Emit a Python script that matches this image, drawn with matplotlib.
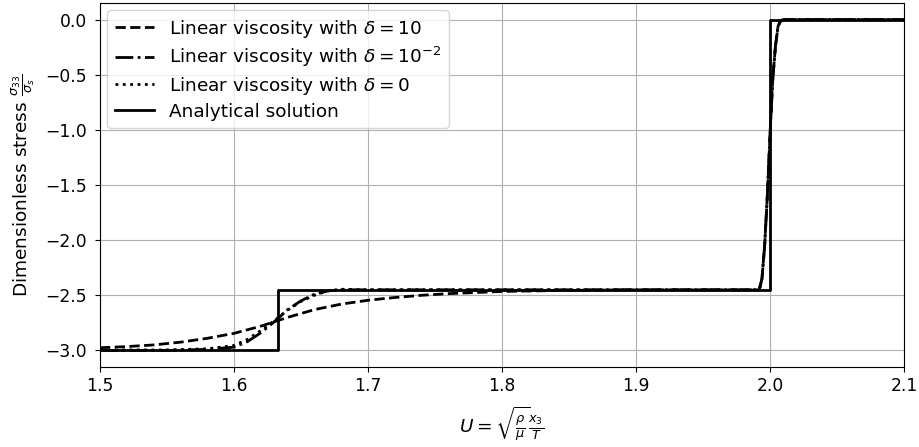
import numpy as np
import matplotlib
matplotlib.use("Agg")
import matplotlib.pyplot as plt

# Jump positions near U = 2
x_jump = [1.99, 1.992, 1.994, 1.996, 1.998, 2.0, 2.002, 2.004, 2.006, 2.008, 2.01, 2.1]
y_jump = [-2.45, -2.45, -2.35, -2.05, -1.6, -1.05, -0.55, -0.25, -0.06, -0.01, 0.0, 0.0]

# Linear viscosity delta = 10
x_d10 = [1.5, 1.52, 1.54, 1.56, 1.58, 1.6, 1.62, 1.64, 1.66, 1.68, 1.7, 1.72, 1.74,
         1.76, 1.78, 1.8, 1.85, 1.9, 1.95] + x_jump
y_d10 = [-2.975, -2.965, -2.95, -2.925, -2.89, -2.845, -2.78, -2.70, -2.63, -2.58,
         -2.545, -2.52, -2.50, -2.485, -2.475, -2.465, -2.455, -2.45, -2.45] + y_jump

# Linear viscosity delta = 1e-2
x_d2 = [1.5, 1.55, 1.58, 1.6, 1.61, 1.62, 1.63, 1.64, 1.65, 1.66, 1.67, 1.68, 1.7,
        1.8, 1.9] + x_jump
y_d2 = [-3.0, -3.0, -2.99, -2.97, -2.92, -2.84, -2.74, -2.63, -2.55, -2.49, -2.46,
        -2.45, -2.45, -2.45, -2.45] + y_jump

# Linear viscosity delta = 0
x_d0 = [1.5, 1.55, 1.58, 1.6, 1.61, 1.62, 1.63, 1.64, 1.65, 1.66, 1.67, 1.68, 1.7,
        1.8, 1.9] + x_jump
y_d0 = [-2.995, -2.995, -2.985, -2.955, -2.90, -2.82, -2.73, -2.635, -2.555, -2.50,
        -2.46, -2.445, -2.45, -2.45, -2.45] + y_jump

# Analytical solution
x_an = [1.5, 1.633, 1.633, 2.0, 2.0, 2.1]
y_an = [-3.0, -3.0, -2.449, -2.449, 0.0, 0.0]

fig = plt.figure(figsize=(9.2, 4.47), dpi=100)
ax = fig.add_axes([100/920, 80/447, 804/920, 364/447])

ax.plot(x_d10, y_d10, color='black', linestyle='--', lw=2, label=r'Linear viscosity with $\delta = 10$')
ax.plot(x_d2, y_d2, color='black', linestyle='-.', lw=2, label=r'Linear viscosity with $\delta = 10^{-2}$')
ax.plot(x_d0, y_d0, color='black', linestyle=':', lw=2, label=r'Linear viscosity with $\delta = 0$')
ax.plot(x_an, y_an, color='black', linestyle='-', lw=2, label='Analytical solution')

ax.set_xlim(1.5, 2.1)
ax.set_ylim(-3.15, 0.15)
ax.set_xticks([1.5, 1.6, 1.7, 1.8, 1.9, 2.0, 2.1])
ax.set_yticks([0.0, -0.5, -1.0, -1.5, -2.0, -2.5, -3.0])
ax.tick_params(labelsize=12.3)
ax.tick_params(axis='y', pad=6)
ax.grid(True)
ax.set_xlabel(r'$U = \sqrt{\frac{\rho}{\mu}} \frac{x_3}{T}$', fontsize=13.3, labelpad=7)
ax.set_ylabel(r'Dimensionless stress $\frac{\sigma_{33}}{\sigma_s}$', fontsize=13.3, labelpad=6)
ax.legend(loc='upper left', fontsize=13.3, labelspacing=0.3, handlelength=2.15,
          borderaxespad=0.4)

fig.savefig('out.png', dpi=100)
